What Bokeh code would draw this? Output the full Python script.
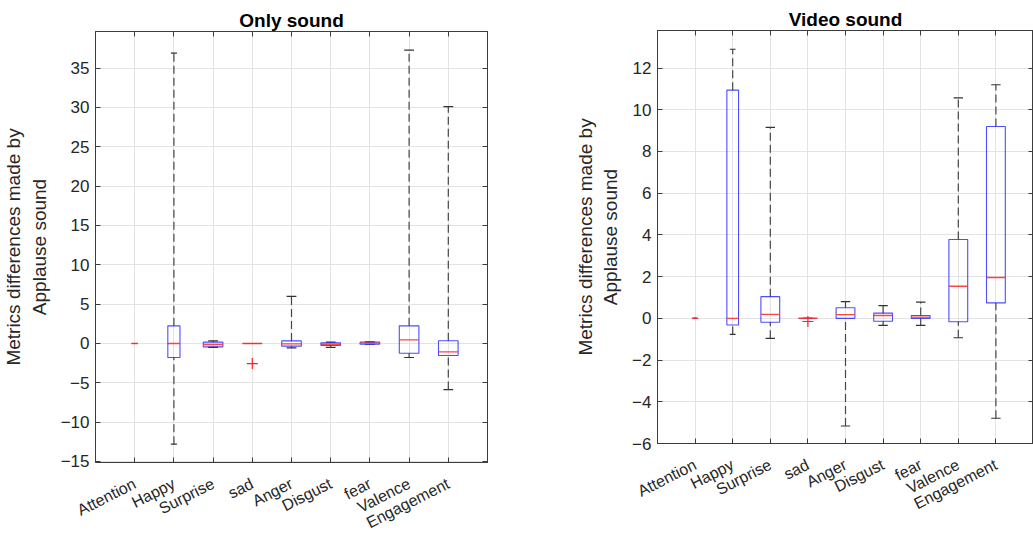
from bokeh.plotting import figure
from bokeh.layouts import row
from bokeh.models import (Range1d, FixedTicker, ColumnDataSource, LinearAxis,
                          CustomJSTickFormatter, CustomLabelingPolicy)
from bokeh.embed import file_html
from bokeh.resources import INLINE

# ---------------- data ----------------
categories = ["Attention", "Happy", "Surprise", "sad", "Anger", "Disgust", "fear", "Valence", "Engagement"]

# Only sound
only_q1 = [0, -1.78, -0.43, 0, -0.34, -0.26, -0.09, -1.24, -1.53]
only_med = [0, 0, -0.13, 0, -0.05, -0.10, 0.05, 0.46, -1.07]
only_q3 = [0, 2.24, 0.17, 0, 0.33, 0.08, 0.17, 2.24, 0.35]
only_lo = [0, -12.8, -0.50, 0, -0.56, -0.50, -0.10, -1.78, -5.86]
only_hi = [0, 36.9, 0.33, 0, 6.0, 0.17, 0.20, 37.3, 30.1]
only_out_cat = ["sad"]
only_out_val = [-2.55]
only_yticks = [-15, -10, -5, 0, 5, 10, 15, 20, 25, 30, 35]

# Video sound
vid_q1 = [0, -0.32, -0.19, 0, 0, -0.14, 0, -0.16, 0.74]
vid_med = [0, 0, 0.19, 0, 0.18, 0.14, 0.06, 1.54, 1.96]
vid_q3 = [0, 10.94, 1.04, 0, 0.51, 0.25, 0.14, 3.78, 9.2]
vid_lo = [0, -0.77, -0.96, 0, -5.16, -0.34, -0.34, -0.93, -4.79]
vid_hi = [0, 12.9, 9.16, 0, 0.80, 0.61, 0.78, 10.57, 11.2]
vid_out_cat = ["sad"]
vid_out_val = [-0.15]
vid_yticks = [-6, -4, -2, 0, 2, 4, 6, 8, 10, 12]

# ---------------- style ----------------
BOX_WIDTHS = [0.16, 0.31, 0.5, 0.5, 0.5, 0.5, 0.5, 0.5, 0.5]
FONT = "Liberation Sans"
TXT = "#262626"
AX = "#3c3c3c"
GRID = "#e3e3e3"
YLABEL = "Metrics differences made by\nApplause sound"

NO_LABELS = """
try {
  for (const i of [...indices.ones()]) { indices.unset(i) }
} catch (e) {}
return indices
"""


def tick_only_axis(ticker):
    return LinearAxis(ticker=ticker,
                      formatter=CustomJSTickFormatter(code="return ''"),
                      major_label_policy=CustomLabelingPolicy(code=NO_LABELS),
                      major_label_standoff=0, major_tick_in=5, major_tick_out=0,
                      minor_tick_line_color=None, axis_line_color=AX,
                      major_tick_line_color=AX)


def make_panel(title, q1, med, q3, lo, hi, out_cat, out_val, yrange, yticks,
               width, height, bl, br, bt, bb):
    xs = list(range(1, len(categories) + 1))
    w = BOX_WIDTHS
    src = ColumnDataSource(dict(
        x=xs,
        left=[x - bw / 2 for x, bw in zip(xs, w)],
        right=[x + bw / 2 for x, bw in zip(xs, w)],
        cl=[x - bw / 4 for x, bw in zip(xs, w)],
        cr=[x + bw / 4 for x, bw in zip(xs, w)],
        q1=q1, med=med, q3=q3, lo=lo, hi=hi,
    ))
    p = figure(width=width, height=height,
               x_range=Range1d(0, len(categories) + 1), y_range=Range1d(*yrange),
               output_backend="svg", toolbar_location=None,
               min_border_left=bl, min_border_right=br,
               min_border_top=bt, min_border_bottom=bb,
               frame_align=False,
               title=title)
    p.title.align = "center"
    p.title.text_font = FONT
    p.title.text_font_size = "19px"
    p.title.text_font_style = "bold"
    p.title.text_color = "black"
    p.title.standoff = 2
    p.outline_line_color = AX
    p.outline_line_width = 1
    p.background_fill_color = "white"
    p.border_fill_color = "white"

    # whiskers
    p.segment(x0="x", y0="q3", x1="x", y1="hi", source=src,
              line_color="#454545", line_width=1.2, line_dash="8 4")
    p.segment(x0="x", y0="lo", x1="x", y1="q1", source=src,
              line_color="#454545", line_width=1.2, line_dash="8 4")
    # caps
    p.segment(x0="cl", y0="hi", x1="cr", y1="hi", source=src,
              line_color="#333333", line_width=1.2)
    p.segment(x0="cl", y0="lo", x1="cr", y1="lo", source=src,
              line_color="#333333", line_width=1.2)
    # boxes
    p.quad(left="left", right="right", top="q3", bottom="q1", source=src,
           fill_color=None, line_color="#2020ff", line_alpha=0.8, line_width=1.1)
    # medians
    p.segment(x0="left", y0="med", x1="right", y1="med", source=src,
              line_color="#ff3030", line_width=1.4, line_alpha=0.9)
    # outliers
    ox = [categories.index(c) + 1 for c in out_cat]
    p.scatter(x=ox, y=out_val, marker="cross", size=11,
              line_color="#ff2020", line_width=1.2)

    # axes
    xt = FixedTicker(ticks=xs)
    yt = FixedTicker(ticks=yticks)
    p.xaxis.ticker = xt
    p.xaxis.major_label_overrides = {x: c for x, c in zip(xs, categories)}
    p.xaxis.major_label_orientation = 0.47
    p.yaxis.ticker = yt
    for ax in (p.xaxis[0], p.yaxis[0]):
        ax.major_label_text_font = FONT
        ax.major_label_text_color = TXT
        ax.axis_line_color = AX
        ax.major_tick_line_color = AX
        ax.major_tick_in = 5
        ax.major_tick_out = 0
        ax.minor_tick_line_color = None
    p.xaxis.major_label_text_font_size = "16px"
    p.yaxis.major_label_text_font_size = "17px"
    p.xaxis.major_label_standoff = 20
    p.yaxis.major_label_standoff = 6
    p.yaxis.axis_label = YLABEL
    p.yaxis.axis_label_text_font = FONT
    p.yaxis.axis_label_text_font_size = "19px"
    p.yaxis.axis_label_text_font_style = "normal"
    p.yaxis.axis_label_text_color = TXT
    p.yaxis.axis_label_standoff = 8

    p.add_layout(tick_only_axis(xt), "above")
    p.add_layout(tick_only_axis(yt), "right")

    p.xgrid.grid_line_color = GRID
    p.ygrid.grid_line_color = GRID
    return p


p1 = make_panel("Only sound", only_q1, only_med, only_q3, only_lo, only_hi,
                only_out_cat, only_out_val, (-15.13, 39.66), only_yticks,
                520, 541, 93, 33, 31, 78)
p2 = make_panel("Video sound", vid_q1, vid_med, vid_q3, vid_lo, vid_hi,
                vid_out_cat, vid_out_val, (-6.0, 13.8), vid_yticks,
                513, 541, 137, 0, 30, 98)

layout = row(p1, p2)
open("out.html", "w").write(file_html(layout, INLINE))
